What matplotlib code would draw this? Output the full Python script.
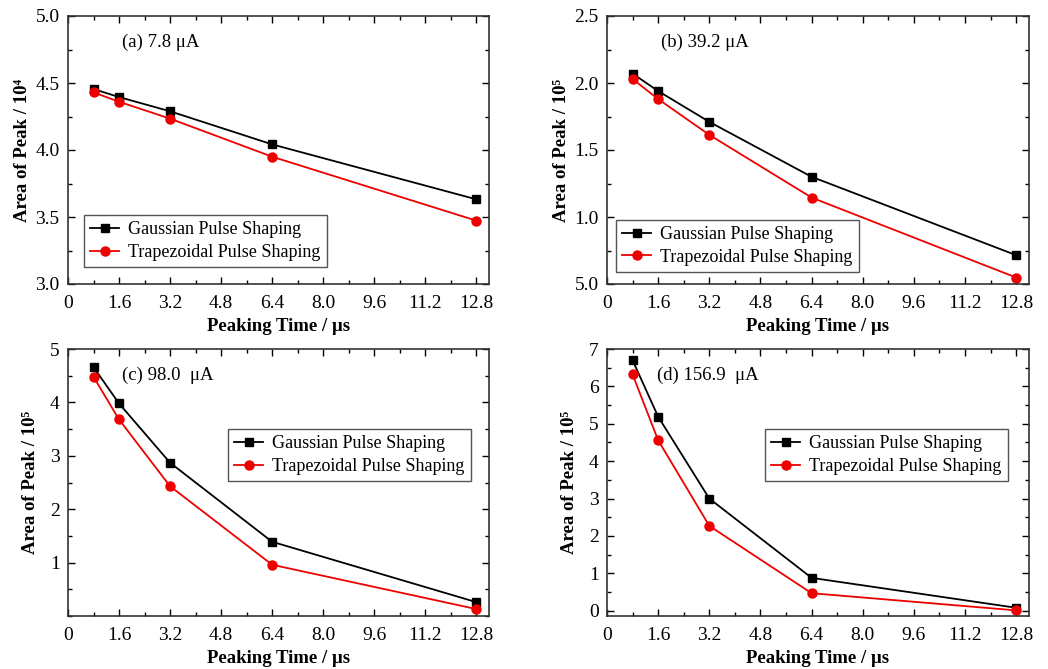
import matplotlib
matplotlib.use("Agg")
import matplotlib.pyplot as plt
from matplotlib.ticker import MultipleLocator, FixedLocator

plt.rcParams['font.family'] = ['Liberation Serif', 'DejaVu Serif']
plt.rcParams['font.size'] = 11

peaking_time = [0.8, 1.6, 3.2, 6.4, 12.8]
x_ticks = [0, 1.6, 3.2, 4.8, 6.4, 8.0, 9.6, 11.2, 12.8]
x_ticklabels = ["0", "1.6", "3.2", "4.8", "6.4", "8.0", "9.6", "11.2", "12.8"]

gauss_a = [4.455, 4.395, 4.289, 4.042, 3.632]
trap_a = [4.430, 4.360, 4.234, 3.950, 3.473]
gauss_b = [2.07, 1.94, 1.71, 1.30, 0.715]
trap_b = [2.03, 1.88, 1.613, 1.145, 0.548]
gauss_c = [4.66, 3.98, 2.87, 1.39, 0.26]
trap_c = [4.48, 3.68, 2.43, 0.96, 0.13]
gauss_d = [6.70, 5.19, 3.00, 0.88, 0.08]
trap_d = [6.32, 4.56, 2.27, 0.47, 0.01]

titles = ["(a) 7.8 μA", "(b) 39.2 μA", "(c) 98.0  μA", "(d) 156.9  μA"]
ylabels = ["Area of Peak / 10⁴", "Area of Peak / 10⁵", "Area of Peak / 10⁵", "Area of Peak / 10⁵"]

yticks_a = [3.0, 3.5, 4.0, 4.5, 5.0]
yticklabels_a = ["3.0", "3.5", "4.0", "4.5", "5.0"]
yticks_b = [0.5, 1.0, 1.5, 2.0, 2.5]
yticklabels_b = ["5.0", "1.0", "1.5", "2.0", "2.5"]
yticks_c = [1, 2, 3, 4, 5]
yticklabels_c = ["1", "2", "3", "4", "5"]
yticks_d = [0, 1, 2, 3, 4, 5, 6, 7]
yticklabels_d = ["0", "1", "2", "3", "4", "5", "6", "7"]

W, H = 1048, 669
fig = plt.figure(figsize=(W / 100, H / 100), dpi=100)

def px_axes(l, r, t, b):
    return fig.add_axes([l / W, (H - b) / H, (r - l) / W, (b - t) / H])

panels = [
    dict(box=(68, 489, 16, 284), g=gauss_a, t=trap_a, ylim=(3.0, 5.0), yt=yticks_a, ytl=yticklabels_a,
         ymin=0.25, leg=(0.038, 0.257), ylp=3),
    dict(box=(607, 1029, 16, 284), g=gauss_b, t=trap_b, ylim=(0.5, 2.5), yt=yticks_b, ytl=yticklabels_b,
         ymin=0.25, leg=(0.021, 0.239), ylp=3),
    dict(box=(68, 489, 349, 616), g=gauss_c, t=trap_c, ylim=(0, 5), yt=yticks_c, ytl=yticklabels_c,
         ymin=0.5, leg=(0.38, 0.70), ylp=8),
    dict(box=(607, 1029, 349, 616), g=gauss_d, t=trap_d, ylim=(-0.14, 7), yt=yticks_d, ytl=yticklabels_d,
         ymin=0.5, leg=(0.374, 0.70), ylp=8),
]

for i, p in enumerate(panels):
    ax = px_axes(*p['box'])
    ax.plot(peaking_time, p['g'], color='black', marker='s', markersize=6, lw=1.3,
            label='Gaussian Pulse Shaping')
    ax.plot(peaking_time, p['t'], color='#ee0000', marker='o', markersize=6.5, lw=1.3,
            label='Trapezoidal Pulse Shaping')
    ax.set_xlim(0, 13.2)
    ax.set_ylim(*p['ylim'])
    ax.xaxis.set_major_locator(FixedLocator(x_ticks))
    ax.set_xticklabels(x_ticklabels)
    ax.xaxis.set_minor_locator(MultipleLocator(0.8))
    ax.yaxis.set_major_locator(FixedLocator(p['yt']))
    ax.set_yticklabels(p['ytl'])
    ax.yaxis.set_minor_locator(MultipleLocator(p['ymin']))
    ax.tick_params(which='both', direction='in', top=True, right=True, labelsize=14, width=1.0)
    ax.tick_params(which='major', length=5, pad=6)
    ax.tick_params(axis='x', which='major', pad=8)
    ax.tick_params(which='minor', length=3)
    for s in ax.spines.values():
        s.set_linewidth(1.2)
        s.set_color('#333333')
    ax.set_xlabel('Peaking Time / μs', fontweight='bold', fontsize=13.5, labelpad=4)
    ax.set_ylabel(ylabels[i], fontweight='bold', fontsize=13.5, labelpad=p['ylp'])
    ax.text(0.128 if i != 3 else 0.119, 0.9, titles[i], transform=ax.transAxes, fontsize=13.5,
            va='center', ha='left')
    leg = ax.legend(loc='upper left', bbox_to_anchor=p['leg'], borderaxespad=0, fancybox=False,
                    edgecolor='#555555', fontsize=13, handlelength=1.6, handletextpad=0.5,
                    labelspacing=0.3, borderpad=0.35, framealpha=1)
    leg.get_frame().set_linewidth(1.0)

fig.savefig('out.png', dpi=100)
